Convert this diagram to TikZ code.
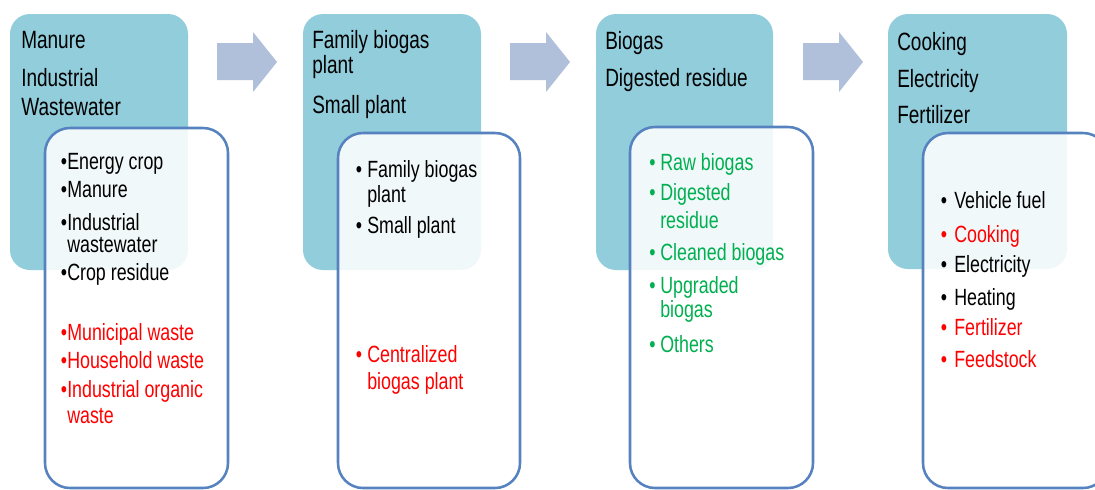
\documentclass[tikz,border=0pt]{standalone}
\usepackage{fontspec}
\setmainfont{Liberation Sans}[FakeStretch=0.76]
\usetikzlibrary{fit}
\definecolor{tealc}{RGB}{146,205,220}
\definecolor{bordc}{RGB}{86,131,192}
\definecolor{arrc}{RGB}{176,191,218}
\definecolor{grn}{RGB}{0,176,80}
\definecolor{rd}{RGB}{255,0,0}
\begin{document}
\begin{tikzpicture}[x=0.75pt,y=-0.75pt,
  tealbox/.style={fill=tealc, draw=none, rounded corners=15pt, inner sep=0pt},
  listbox/.style={fill=white, fill opacity=0.88, draw=bordc, draw opacity=1, line width=1.9pt, rounded corners=18.75pt, inner sep=0pt},
  hd/.style={anchor=base west, inner sep=0pt, font=\fontsize{18.75pt}{22pt}\selectfont},
  li/.style={anchor=base west, inner sep=0pt, font=\fontsize{17.6pt}{20pt}\selectfont},
  blockarrow/.style={fill=arrc, draw=none}]
\useasboundingbox (0,0) rectangle (1095,489);
\fill[white] (0,0) rectangle (1095,489);

% block arrows
\foreach \s/\n in {0/1,293/2,586/3}{
  \fill[blockarrow, xshift=\s*0.75pt] (217,43) -- (253,43) -- (253,32) -- (277,62) -- (253,92) -- (253,80) -- (217,80) -- cycle;
}

% column 1
\node[tealbox, fit={(10,14) (188,270)}] (t1) {};
\node[listbox, fit={(45,128) (228,488)}] (w1) {};
\node[hd] (h11) at (21,48) {Manure};
\node[hd] (h12) at (21,86) {Industrial};
\node[hd] (h13) at (21,115) {Wastewater};
\foreach \y/\c/\t [count=\i] in {169/black/Energy crop, 197/black/Manure, 230/black/Industrial, 280/black/Crop residue, 340/rd/Municipal waste, 368/rd/Household waste, 397/rd/Industrial organic}{
  \node[li, text=\c] (b1\i) at (60.5,\y) {•};
  \node[li, text=\c] (l1\i) at (67,\y) {\t};
}
\node[li] (l1w) at (67,252) {wastewater};
\node[li, text=rd] (l1x) at (67,423) {waste};

% column 2
\node[tealbox, fit={(303,14) (481,270)}] (t2) {};
\node[listbox, fit={(338,133) (520,488)}] (w2) {};
\node[hd] (h21) at (312,48) {Family biogas};
\node[hd] (h22) at (312,73) {plant};
\node[hd] (h23) at (312,113) {Small plant};
\foreach \y/\c/\t [count=\i] in {177/black/Family biogas, 233/black/Small plant, 362/rd/Centralized}{
  \node[li, text=\c] (b2\i) at (355.5,\y) {•};
  \node[li, text=\c] (l2\i) at (367,\y) {\t};
}
\node[li] (l2p) at (367,202) {plant};
\node[li, text=rd] (l2q) at (367,389) {biogas plant};

% column 3
\node[tealbox, fit={(596,14) (773,270)}] (t3) {};
\node[listbox, fit={(630,127) (813,488)}] (w3) {};
\node[hd] (h31) at (605,49) {Biogas};
\node[hd] (h32) at (605,86) {Digested residue};
\foreach \y/\t [count=\i] in {170/Raw biogas, 200/Digested, 260/Cleaned biogas, 293/Upgraded, 352/Others}{
  \node[li, text=grn] (b3\i) at (649,\y) {•};
  \node[li, text=grn] (l3\i) at (660,\y) {\t};
}
\node[li, text=grn] (l3r) at (660,228) {residue};
\node[li, text=grn] (l3b) at (660,317) {biogas};

% column 4
\node[tealbox, fit={(888,14) (1067,269)}] (t4) {};
\node[listbox, fit={(923,133) (1108,488)}] (w4) {};
\node[hd] (h41) at (897,50) {Cooking};
\node[hd] (h42) at (897,87) {Electricity};
\node[hd] (h43) at (897,123) {Fertilizer};
\foreach \y/\c/\t [count=\i] in {208/black/Vehicle fuel, 242/rd/Cooking, 272/black/Electricity, 305/black/Heating, 335/rd/Fertilizer, 367/rd/Feedstock}{
  \node[li, text=\c] (b4\i) at (940.5,\y) {•};
  \node[li, text=\c] (l4\i) at (954,\y) {\t};
}
\end{tikzpicture}
\end{document}
